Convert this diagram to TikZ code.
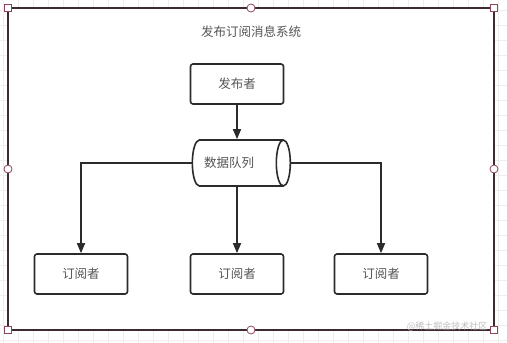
\documentclass[tikz,border=0pt]{standalone}
\usepackage{fontspec}
\usetikzlibrary{positioning,shapes.geometric,arrows.meta}
\newfontfamily\cjk{Noto Sans CJK SC}
\definecolor{frame}{HTML}{3E2A31}
\definecolor{handle}{HTML}{8E4558}
\definecolor{gridc}{HTML}{EEEEEE}
\definecolor{ink}{HTML}{2B2B2B}

\begin{document}
\begin{tikzpicture}[x=1pt,y=-1pt,font=\cjk\fontsize{12.5}{14}\selectfont,
  box/.style={draw=ink,fill=white,rounded corners=2.5pt,line width=1.6pt,minimum width=93pt,minimum height=40pt,inner sep=2pt,text=ink!80},
  queue/.style={cylinder,draw=ink,fill=white,line width=1.6pt,shape aspect=0.9,minimum width=46pt,minimum height=98pt,inner sep=2pt,text=ink!80},
  conn/.style={draw=ink,line width=1.6pt,-{Triangle[length=10pt,width=8pt]}},
  sqhandle/.style={draw=handle,fill=white,line width=0.8pt,minimum size=7pt,inner sep=0pt},
  cirhandle/.style={circle,draw=handle,fill=white,line width=0.8pt,minimum size=8pt,inner sep=0pt}]
\useasboundingbox (0,0) rectangle (507,343);
\fill[white] (0,0) rectangle (507,343);
% background grid
\foreach \gx in {3,18,...,507} \draw[gridc,line width=0.6pt] (\gx,0) -- (\gx,343);
\foreach \gy in {10,25,...,343} \draw[gridc,line width=0.6pt] (0,\gy) -- (507,\gy);
% frame
\coordinate (nw) at (8,8);
\coordinate (se) at (494,330);
\fill[white] (nw) rectangle (se);
\draw[frame,line width=2pt] (nw) rectangle (se);
\node[text=ink!80] (title) at (251,32) {发布订阅消息系统};
% nodes
\node[box] (pub) at (237,84) {发布者};
\node[queue] (mq) at (236,163) {\hspace{-14pt}数据队列};
\node[box] (subL) at (81,274) {订阅者};
\node[box] (subM) at (237,274) {订阅者};
\node[box] (subR) at (381,274) {订阅者};
% connectors
\draw[conn] (pub) -- (pub |- mq.north);
\draw[conn] (mq.west) -| (subL.north);
\draw[conn] (pub |- mq.south) -- (subM);
\draw[conn] (mq.east) -| (subR.north);
% selection handles
\node[sqhandle] (h1) at (8,8) {};
\node[sqhandle] (h2) at (494,8) {};
\node[sqhandle] (h3) at (8,330) {};
\node[sqhandle] (h4) at (494,330) {};
\node[cirhandle] (h5) at (251,8) {};
\node[cirhandle] (h6) at (8,169) {};
\node[cirhandle] (h7) at (494,169) {};
\node[cirhandle] (h8) at (251,330) {};
\node[text=black!25,font=\cjk\fontsize{9}{10}\selectfont,anchor=east] (mark) at (491,326) {@稀土掘金技术社区};
\end{tikzpicture}
\end{document}
